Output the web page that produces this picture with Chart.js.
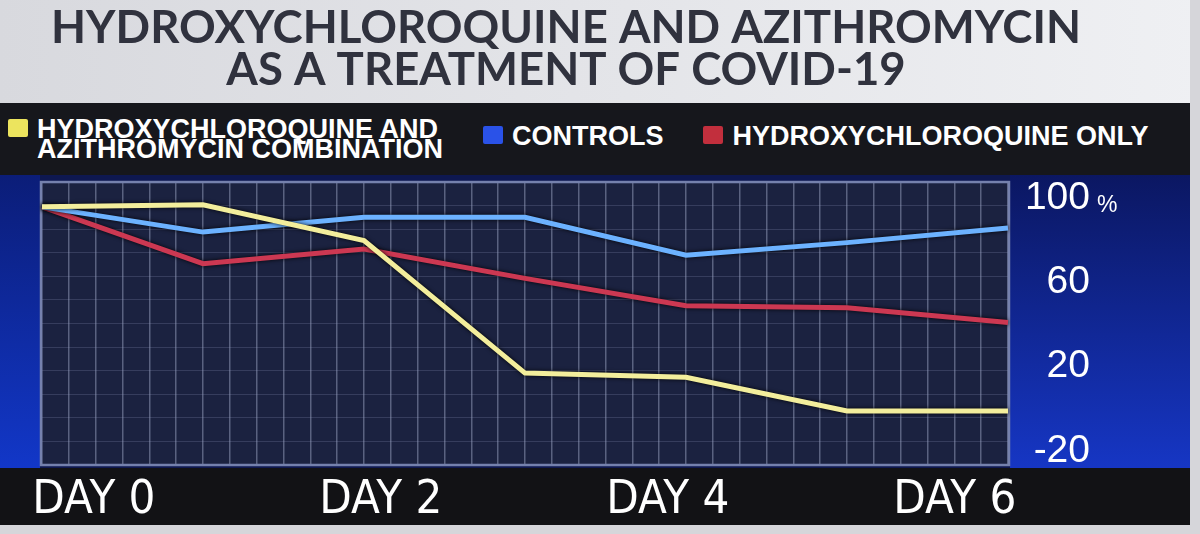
<!DOCTYPE html>
<html>
<head>
<meta charset="utf-8">
<title>Hydroxychloroquine and azithromycin</title>
<script src="https://cdn.jsdelivr.net/npm/chart.js@4.4.1/dist/chart.umd.min.js"></script>
<style>
  html, body { margin: 0; padding: 0; background: #111; }
  #wrap { position: relative; width: 1200px; height: 534px; overflow: hidden; }
  #chart { position: absolute; left: 0; top: 0; }
  #legend {
    position: absolute; left: 0; top: 103px; width: 1190px; height: 72px;
    background: #16171c; display: flex; align-items: center;
    font: bold 27px 'Liberation Sans', Arial, sans-serif; color: #fff;
  }
  .item { display: flex; align-items: flex-start; margin-left: 40px; }
  .item:first-child { margin-left: 8px; }
  .item.single { position: relative; top: -3px; }
  .box { width: 20px; height: 18px; margin-right: 9px; flex: none; border-radius: 2px; }
  .label { white-space: pre; line-height: 20px; }
</style>
</head>
<body>
<div id="wrap">
  <canvas id="chart" width="1200" height="534"></canvas>
  <div id="legend"></div>
</div>
<script>
const dayIndex = ['0', '1', '2', '3', '4', '5', '6'];
const dayTicks = [0, 2, 4, 6];
const yTicks = [100, 60, 20, -20];

const combination = [96, 97, 80, 17, 15, -1, -1];
const controls = [96, 84, 91, 91, 73, 79, 86];
const hcqOnly = [96, 69, 76, 62, 49, 48, 41];

const seriesNames = [
    'HYDROXYCHLOROQUINE AND\nAZITHROMYCIN COMBINATION',
    'CONTROLS',
    'HYDROXYCHLOROQUINE ONLY'
];
const titleLines = ['HYDROXYCHLOROQUINE AND AZITHROMYCIN', 'AS A TREATMENT OF COVID-19'];

const yFont = { family: "'Liberation Sans', Arial, sans-serif", size: 39 };

// Paint the TV graphic bands behind the chart
const backdrop = {
    id: 'backdrop',
    beforeDraw(chart) {
        const { ctx, chartArea: a } = chart;
        const bandTop = 175;
        const bandBottom = a.bottom + 3;
        ctx.save();

        let g = ctx.createLinearGradient(0, 0, 1200, 0);
        g.addColorStop(0, '#d8d9de');
        g.addColorStop(1, '#eff0f3');
        ctx.fillStyle = g;
        ctx.fillRect(0, 0, 1200, 104);

        ctx.fillStyle = '#16171c';
        ctx.fillRect(0, 103, 1200, bandTop - 103);

        ctx.fillStyle = '#0e1850';
        ctx.fillRect(0, bandTop, 1200, bandBottom - bandTop);

        g = ctx.createLinearGradient(0, bandTop, 0, bandBottom);
        g.addColorStop(0, '#0b1d78');
        g.addColorStop(1, '#1237c8');
        ctx.fillStyle = g;
        ctx.fillRect(0, bandTop, a.left - 2, bandBottom - bandTop);

        g = ctx.createLinearGradient(0, bandTop, 0, bandBottom);
        g.addColorStop(0, '#0b1762');
        g.addColorStop(1, '#1636c4');
        ctx.fillStyle = g;
        ctx.fillRect(a.right + 2, bandTop, 1190 - a.right - 2, bandBottom - bandTop);

        ctx.fillStyle = '#1b2240';
        ctx.fillRect(a.left, a.top, a.right - a.left, a.bottom - a.top);

        ctx.fillStyle = '#121215';
        ctx.fillRect(0, bandBottom, 1200, 525 - bandBottom);

        ctx.fillStyle = '#d6d6da';
        ctx.fillRect(0, 525, 1200, 9);
        ctx.fillRect(1190, 0, 10, 534);
        ctx.restore();
    }
};

// Plot frame, dark halo under the lines, small % after the top tick
const frame = {
    id: 'frame',
    beforeDatasetsDraw(chart) {
        const { ctx, chartArea: a } = chart;
        ctx.save();
        ctx.strokeStyle = '#7581ad';
        ctx.lineWidth = 2.5;
        ctx.strokeRect(a.left - 1, a.top, a.right - a.left + 2, a.bottom - a.top);
        ctx.restore();
        ctx.save();
        ctx.shadowColor = 'rgba(0, 0, 0, 0.9)';
        ctx.shadowBlur = 4;
    },
    afterDatasetsDraw(chart) {
        chart.ctx.restore();
    },
    afterDraw(chart) {
        const { ctx } = chart;
        const s = chart.scales.y;
        ctx.save();
        ctx.font = '23px ' + yFont.family;
        ctx.fillStyle = '#ffffff';
        ctx.textBaseline = 'alphabetic';
        ctx.fillText('%', s.right + 7, s.getPixelForValue(yTicks[0]) + 14);
        ctx.restore();
    }
};

const chart = new Chart(document.getElementById('chart'), {
    type: 'line',
    data: {
        labels: dayIndex,
        datasets: [
            { label: seriesNames[0], data: combination, borderColor: '#f3ee9c', boxColor: '#ece45e' },
            { label: seriesNames[1], data: controls, borderColor: '#6cb2ff', boxColor: '#2a52e8' },
            { label: seriesNames[2], data: hcqOnly, borderColor: '#cc3852', boxColor: '#c22f3d' }
        ]
    },
    options: {
        responsive: false,
        animation: false,
        layout: { padding: { left: 42, right: 110, top: 0, bottom: 0 } },
        elements: {
            line: { borderWidth: 5, tension: 0 },
            point: { radius: 0 }
        },
        plugins: {
            legend: { display: false },
            tooltip: { enabled: false },
            title: {
                display: true,
                text: titleLines,
                color: '#30323e',
                font: { family: "Lato, 'Open Sans', sans-serif", size: 45.5, weight: 'bold', lineHeight: 0.93 },
                padding: { top: 7, bottom: 90.4 }
            }
        },
        scales: {
            x: { type: 'category', display: false, offset: false },
            xGrid: {
                type: 'linear', position: 'bottom', min: 0, max: 36,
                ticks: { display: false, stepSize: 1 },
                grid: { color: 'rgba(185, 195, 225, 0.4)', lineWidth: 1.5, drawTicks: false },
                border: { display: false },
                afterFit: s => { s.height = 0; }
            },
            xDays: {
                type: 'linear', position: 'bottom', min: -0.362, max: 6.37,
                afterBuildTicks: s => { s.ticks = dayTicks.map(v => ({ value: v })); },
                ticks: {
                    autoSkip: false, maxRotation: 0, padding: 0, color: '#ffffff',
                    font: { family: "'Liberation Sans Narrow', 'DejaVu Sans Condensed', 'Liberation Sans', sans-serif", size: 47, weight: 'normal' },
                    callback: v => 'DAY ' + v
                },
                grid: { display: false },
                border: { display: false },
                afterFit: s => { s.height = 69; }
            },
            y: {
                position: 'right', min: -26.7, max: 107.8,
                afterBuildTicks: s => { s.ticks = yTicks.map(v => ({ value: v })); },
                ticks: { autoSkip: false, crossAlign: 'far', padding: 0, color: '#ffffff', font: yFont },
                grid: { display: false },
                border: { display: false },
                afterFit: s => { s.width = 82; }
            },
            yGrid: {
                type: 'linear', position: 'left', min: 0, max: 12,
                ticks: { display: false, stepSize: 1 },
                grid: { color: 'rgba(150, 160, 195, 0.22)', lineWidth: 1, drawTicks: false },
                border: { display: false },
                afterFit: s => { s.width = 0; }
            }
        }
    },
    plugins: [backdrop, frame]
});

// HTML legend built from the datasets
const legendEl = document.getElementById('legend');
chart.data.datasets.forEach(ds => {
    const item = document.createElement('div');
    item.className = 'item' + (ds.label.includes('\n') ? '' : ' single');
    const box = document.createElement('span');
    box.className = 'box';
    box.style.background = ds.boxColor;
    const text = document.createElement('span');
    text.className = 'label';
    text.textContent = ds.label;
    item.append(box, text);
    legendEl.appendChild(item);
});
</script>
</body>
</html>
